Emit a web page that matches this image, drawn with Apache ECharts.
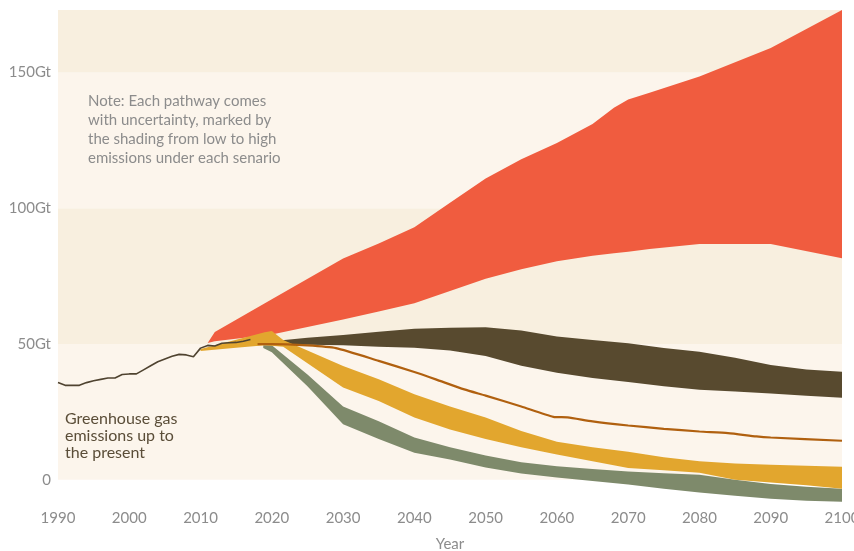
<!DOCTYPE html>
<html>
<head>
<meta charset="utf-8">
<script src="https://cdn.jsdelivr.net/npm/echarts@6/dist/echarts.min.js"></script>
<style>
  html, body { margin: 0; padding: 0; background: #fff; }
  #chart { width: 854px; height: 551px; }
</style>
</head>
<body>
<div id="chart"></div>
<script>
// historic emissions
var histYears = [1990, 1991, 1992, 1993, 1994, 1995, 1996, 1997, 1998, 1999, 2000, 2001, 2002, 2003, 2004, 2005, 2006, 2007, 2008, 2009, 2010, 2011, 2012, 2013, 2014, 2015, 2016, 2017]
var histValues = [35.8, 34.8, 34.8, 34.8, 35.8, 36.5, 37, 37.5, 37.5, 38.8, 39, 39, 40.5, 42, 43.5, 44.5, 45.5, 46.2, 46, 45.3, 48.5, 49.5, 49.3, 50.3, 50.5, 50.6, 51, 51.7]

// pathway bands (low / high edge)
var redYears = [2011, 2012, 2020, 2030, 2035, 2040, 2045, 2050, 2055, 2060, 2065, 2068, 2070, 2073, 2080, 2090, 2100]
var redLow = [50.4, 51, 53.5, 59, 62, 65, 69.5, 74, 77.5, 80.5, 82.5, 83.4, 84, 85, 86.8, 86.8, 81.6]
var redHigh = [50.4, 54.4, 66.5, 81.5, 87, 93, 102, 111, 118, 124, 131, 137, 140, 142.5, 148.5, 159, 173]

var brownYears = [2018, 2020, 2025, 2030, 2035, 2040, 2045, 2050, 2055, 2060, 2065, 2070, 2075, 2080, 2085, 2090, 2095, 2100]
var brownLow = [50, 49.8, 49.7, 49.6, 49, 48.6, 47.6, 45.6, 42, 39.4, 37.5, 36, 34.5, 33.2, 32.5, 31.8, 31, 30.2]
var brownHigh = [50.2, 51, 52.3, 53.3, 54.5, 55.6, 56, 56.2, 55, 52.8, 51.5, 50.3, 48.5, 47.2, 45, 42.3, 40.6, 39.8]

var orangeYears = [2018, 2020, 2025, 2029, 2035, 2040, 2043, 2047, 2050, 2055, 2059.5, 2061.5, 2065, 2070, 2075, 2080, 2084, 2088, 2090, 2100]
var orangeValues = [50, 50, 49.5, 48.5, 43.8, 39.7, 37, 33.3, 31, 27, 23.2, 23, 21.5, 20, 18.8, 17.8, 17.2, 16, 15.6, 14.4]

var yellowYears = [2010, 2015, 2019, 2020, 2021.6, 2025, 2030, 2035, 2040, 2045, 2050, 2055, 2060, 2065, 2070, 2075, 2080, 2085, 2090, 2095, 2100]
var yellowLow = [47.4, 48.6, 49.6, 49.4, 49, 42.9, 34, 29, 23, 18.5, 15, 12, 9.3, 6.8, 4.4, 3.5, 2.6, 0, -1, -2, -3.3]
var yellowHigh = [48.2, 51.6, 54.3, 54.8, 51.5, 47.6, 41.9, 37, 31.5, 27, 23, 18, 14, 12, 10.3, 8.3, 6.8, 6, 5.6, 5.2, 4.8]

var greenYears = [2018.8, 2020, 2025, 2030, 2035, 2040, 2045, 2050, 2055, 2060, 2065, 2070, 2075, 2080, 2085, 2090, 2095, 2100]
var greenLow = [48.5, 47, 34.5, 20.5, 15, 10, 7.5, 4.5, 2.3, 0.9, -0.4, -1.7, -3.3, -4.7, -5.9, -7, -7.7, -8.1]
var greenHigh = [49.6, 49.6, 38.8, 27, 21.6, 15.6, 12, 9, 6.5, 5, 4, 3.1, 2.4, 1.9, 0, -1.5, -2.5, -3.3]

var yTicks = [0, 50, 100, 150]

function zip (xs, ys) {
  return xs.map(function (x, i) { return [x, ys[i]] })
}

// one custom series per band: polygon from the high edge out and the low edge back
function band (name, years, low, high, color, z) {
  return {
    name: name,
    type: 'custom',
    silent: true,
    z: z,
    data: years.map(function (y, i) { return [y, low[i], high[i]] }),
    encode: { x: 0, y: [1, 2] },
    renderItem: function (params, api) {
      if (params.dataIndex !== 0) return
      var pts = []
      for (var i = 0; i < years.length; i++) pts.push(api.coord([years[i], high[i]]))
      for (var j = years.length - 1; j >= 0; j--) pts.push(api.coord([years[j], low[j]]))
      return {
        type: 'polygon',
        shape: { points: pts },
        style: { fill: color }
      }
    }
  }
}

var light = '#fcf5ec'
var dark = '#f8efdf'

var chart = echarts.init(document.getElementById('chart'))
var series = [{
  name: 'bg',
  type: 'line',
  data: [],
  silent: true,
  z: 1,
  markArea: {
    silent: true,
    data: [
      [{ xAxis: 1990, yAxis: 0, itemStyle: { color: light } }, { xAxis: 2100, yAxis: 50 }],
      [{ xAxis: 1990, yAxis: 50, itemStyle: { color: dark } }, { xAxis: 2100, yAxis: 100 }],
      [{ xAxis: 1990, yAxis: 100, itemStyle: { color: light } }, { xAxis: 2100, yAxis: 150 }],
      [{ xAxis: 1990, yAxis: 150, itemStyle: { color: dark } }, { xAxis: 2100, yAxis: 173 }]
    ]
  }
}]
series.push(band('green', greenYears, greenLow, greenHigh, '#7e8a6b', 2))
series.push(band('brown', brownYears, brownLow, brownHigh, '#584a2f', 3))
series.push(band('red', redYears, redLow, redHigh, '#f05c3f', 4))
series.push(band('yellow', yellowYears, yellowLow, yellowHigh, '#e2a62e', 5))
series.push({
  name: 'orange',
  type: 'line',
  data: zip(orangeYears, orangeValues),
  symbol: 'none',
  smooth: 0.2,
  lineStyle: { color: '#b0600f', width: 2.2 },
  silent: true,
  z: 6
})
series.push({
  name: 'history',
  type: 'line',
  data: zip(histYears, histValues),
  symbol: 'none',
  lineStyle: { color: '#4f4330', width: 1.6 },
  silent: true,
  z: 7
})

chart.setOption({
  animation: false,
  textStyle: { fontFamily: 'Lato' },
  grid: { left: 58, right: 12, top: 10, bottom: 44, containLabel: false, outerBoundsMode: 'none' },
  xAxis: {
    type: 'value',
    min: 1990,
    max: 2100,
    interval: 10,
    name: 'Year',
    nameLocation: 'middle',
    nameGap: 30,
    nameTextStyle: { color: '#8c8c8c', fontSize: 15, fontFamily: 'Lato' },
    axisLine: { show: false },
    axisTick: { show: false },
    splitLine: { show: false },
    axisLabel: { color: '#8c8c8c', fontSize: 15, margin: 4, formatter: function (v) { return String(v) } }
  },
  yAxis: {
    type: 'value',
    min: -10,
    max: 173,
    interval: 10,
    axisLine: { show: false },
    axisTick: { show: false },
    splitLine: { show: false },
    axisLabel: {
      color: '#8c8c8c',
      fontSize: 15,
      margin: 7,
      formatter: function (v) {
        if (yTicks.indexOf(v) < 0) return ''
        return v === 0 ? '0' : v + 'Gt'
      }
    }
  },
  graphic: [{
    type: 'text',
    left: 88,
    top: 92,
    z: 10,
    style: {
      text: 'Note: Each pathway comes\nwith uncertainty, marked by\nthe shading from low to high\nemissions under each senario',
      fill: '#8c8c8c',
      font: '15px Lato',
      lineHeight: 19
    }
  }, {
    type: 'text',
    left: 65,
    top: 410,
    z: 10,
    style: {
      text: 'Greenhouse gas\nemissions up to\nthe present',
      fill: '#5a4d38',
      font: '16px Lato',
      lineHeight: 17
    }
  }],
  series: series
})
</script>
</body>
</html>
